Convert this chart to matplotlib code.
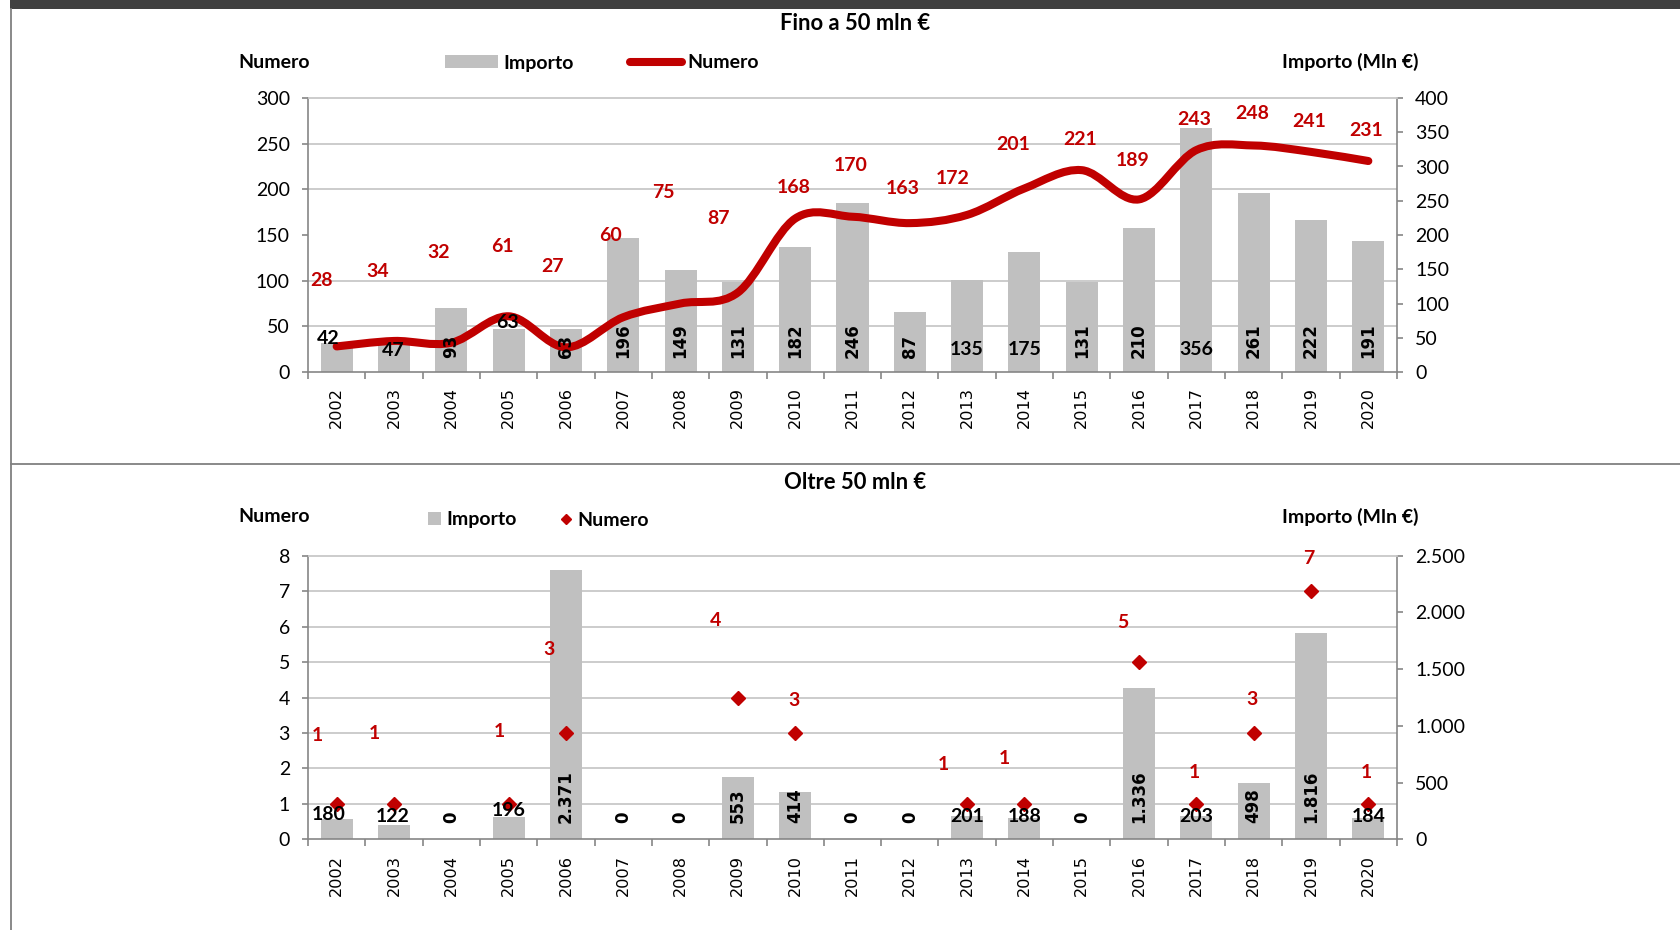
import numpy as np
import matplotlib
matplotlib.use("Agg")
import matplotlib.pyplot as plt
from matplotlib.path import Path
from matplotlib.patches import PathPatch, Rectangle, Patch
from matplotlib.lines import Line2D
from matplotlib.ticker import FuncFormatter

plt.rcParams['font.family'] = ['Lato', 'DejaVu Sans']

# ---------------- data ----------------
years = [str(y) for y in range(2002, 2021)]

# Fino a 50 mln €
small_importo = [42, 47, 93, 63, 63, 196, 149, 131, 182, 246, 87, 135, 175, 131, 210, 356, 261, 222, 191]
small_numero = [28, 34, 32, 61, 27, 60, 75, 87, 168, 170, 163, 172, 201, 221, 189, 243, 248, 241, 231]

# Oltre 50 mln €
big_importo = [180, 122, 0, 196, 2371, 0, 0, 553, 414, 0, 0, 201, 188, 0, 1336, 203, 498, 1816, 184]
big_numero = [1, 1, None, 1, 3, None, None, 4, 3, None, None, 1, 1, None, 5, 1, 3, 7, 1]

# ---------------- layout (label placement as in the original) ----------------
top_num_dx = [-15, -16, -13, -6, -13, -13, -17, -19, -1, -2, -7, -14, -11, -2, -6, -2, -2, -2, -2]
top_num_dy = [72.6, 75.8, 99, 76, 88, 90, 121, 81, 34, 56, 38, 40, 48.5, 34, 42.6, 34, 34.5, 33.4, 33]
top_imp_horiz = {0: (-8, 33.7), 1: (-1, 22), 3: (-1, 50), 11: (0, 22.7), 12: (0, 22.7), 15: (0, 22.7)}

bot_num_dx = [-19, -20, 0, -9, -17, 0, 0, -22, -1, 0, 0, -24, -20, 0, -16, -2, -2, -2, -2]
bot_num_dy = [1.93, 1.99, 0, 2.05, 2.36, 0, 0, 2.17, 0.91, 0, 0, 1.1, 1.28, 0, 1.12, 0.89, 0.93, 0.92, 0.89]
bot_imp_horiz = {0: (-8, 25.3), 1: (-1, 23.3), 3: (0, 29), 11: (0, 23), 12: (0, 23), 15: (0, 23), 18: (0, 23)}

BAR = '#C0C0C0'
RED = '#C00000'
GRID = '#C8C8C8'
AXC = '#868686'
FS = 14
TFS = 15.8

W, H = 1680, 930
fig = plt.figure(figsize=(W / 100, H / 100), dpi=100)


def it_fmt(v):
    return f"{int(round(v)):,}".replace(',', '.')


def smooth_path(xs, ys):
    pts = np.column_stack([xs, ys]).astype(float)
    n = len(pts)
    verts = [pts[0]]
    codes = [Path.MOVETO]
    for i in range(n - 1):
        p0 = pts[i - 1] if i > 0 else pts[i]
        p1 = pts[i]
        p2 = pts[i + 1]
        p3 = pts[i + 2] if i + 2 < n else pts[i + 1]
        c1 = p1 + (p2 - p0) / 6.0
        c2 = p2 - (p3 - p1) / 6.0
        verts += [c1, c2, p2]
        codes += [Path.CURVE4] * 3
    return Path(verts, codes)


def panel(rect, imp, imp_max, imp_step, num_max, num_step, rot_base_px, horiz):
    n = len(years)
    x = np.arange(n)
    ax = fig.add_axes(rect)
    ax.bar(x, imp, width=0.56, color=BAR, zorder=2)
    ax.set_xlim(-0.5, n - 0.5)
    ax.set_ylim(0, imp_max)
    ax.set_yticks(np.arange(0, imp_max + 1, imp_step))
    ax.yaxis.set_major_formatter(FuncFormatter(lambda v, p: it_fmt(v)))
    nlines = int(round(num_max / num_step))
    ax.set_yticks(np.linspace(0, imp_max, nlines + 1), minor=True)
    ax.grid(axis='y', which='minor', color=GRID, lw=1.3, zorder=0)
    ax.set_axisbelow(True)
    for s in ['left', 'right', 'bottom']:
        ax.spines[s].set_color(AXC)
        ax.spines[s].set_linewidth(1.2)
    ax.spines['top'].set_color(GRID)
    ax.spines['top'].set_linewidth(1.3)

    ax.set_xticks(x)
    ax.set_xticklabels(years, rotation=90, fontfamily='DejaVu Sans', fontsize=11.6)
    ax.set_xticks(np.arange(-0.5, n), minor=True)
    ax.tick_params(axis='x', which='major', length=0, pad=11)
    ax.tick_params(axis='x', which='minor', length=5, width=1.2, color=AXC, direction='out')

    ax2 = ax.twinx()
    ax.yaxis.tick_right()
    ax2.yaxis.tick_left()
    ax.tick_params(axis='y', which='major', length=4.5, width=1.2, color=AXC, pad=8.5,
                   labelsize=FS, direction='out')
    ax.tick_params(axis='y', which='minor', length=0)
    ax2.set_ylim(0, num_max)
    ax2.set_yticks(np.arange(0, num_max + 0.001, num_step))
    ax2.yaxis.set_major_formatter(FuncFormatter(lambda v, p: it_fmt(v)))
    ax2.tick_params(axis='y', length=4.5, width=1.2, color=AXC, pad=8.5, labelsize=FS,
                    direction='out')
    for s in ax2.spines.values():
        s.set_visible(False)

    # importo labels
    for i, v in enumerate(imp):
        txt = it_fmt(v)
        if i in horiz:
            dx, dy = horiz[i]
            ax2.annotate(txt, xy=(i, 0), xytext=(dx, dy), textcoords='offset pixels',
                         ha='center', va='center', fontsize=FS, fontweight='bold',
                         color='black', zorder=10)
        else:
            ax2.annotate(txt, xy=(i, 0), xytext=(0, rot_base_px), textcoords='offset pixels',
                         ha='center', va='bottom', rotation=90, fontsize=12,
                         fontfamily='DejaVu Sans', fontweight='bold', color='black',
                         zorder=10)
    return ax, ax2, x


# ---------------- top panel ----------------
ax_t, ax2_t, x = panel([308 / W, 1 - 372 / H, (1397 - 308) / W, (372 - 98) / H],
                       small_importo, 400, 50, 300, 50, 14.5, top_imp_horiz)
path = smooth_path(x, small_numero)
ax2_t.add_patch(PathPatch(path, fill=False, edgecolor=RED, lw=5.8, capstyle='round',
                          joinstyle='round', zorder=5))
for i, v in enumerate(small_numero):
    ax2_t.annotate(str(v), xy=(i, v + top_num_dy[i]), xytext=(top_num_dx[i], 0),
                   textcoords='offset pixels', ha='center', va='center', fontsize=FS,
                   fontweight='bold', color=RED, zorder=11)

# ---------------- bottom panel ----------------
ax_b, ax2_b, x = panel([308 / W, 1 - 839.3 / H, (1397 - 308) / W, (839.3 - 555.7) / H],
                       big_importo, 2500, 500, 8, 1, 16.5, bot_imp_horiz)
num_arr = np.array([np.nan if v is None else v for v in big_numero], dtype=float)
ax2_b.plot(x, num_arr, linestyle='none', marker='D', ms=7.3, color=RED, zorder=6,
           clip_on=False)
for i, v in enumerate(big_numero):
    if v is None:
        continue
    ax2_b.annotate(str(v), xy=(i, v + bot_num_dy[i]), xytext=(bot_num_dx[i], 0),
                   textcoords='offset pixels', ha='center', va='center', fontsize=FS,
                   fontweight='bold', color=RED, zorder=11)

# ---------------- titles, axis names, legends ----------------
fig.text(855 / W, 1 - 24 / H, 'Fino a 50 mln €', ha='center', va='center',
         fontsize=TFS, fontweight='bold')
fig.text(855 / W, 1 - 482 / H, 'Oltre 50 mln €', ha='center', va='center',
         fontsize=TFS, fontweight='bold')
for yc in (62, 517):
    fig.text(238.6 / W, 1 - yc / H, 'Numero', ha='left', va='center', fontsize=FS,
             fontweight='bold')
    fig.text(1418 / W, 1 - yc / H, 'Importo (Mln €)', ha='right', va='center', fontsize=FS,
             fontweight='bold')

leg_prop = {'weight': 'bold', 'size': FS}
fig.legend([Patch(facecolor=BAR, edgecolor='none'),
            Line2D([0], [0], color=RED, lw=5.8, solid_capstyle='round')],
           ['Importo', 'Numero'], loc='center left', bbox_to_anchor=(445 / W, 1 - 63 / H),
           ncol=2, frameon=False, borderpad=0, borderaxespad=0, handlelength=2.7,
           handleheight=0.62, handletextpad=0.28, columnspacing=2.9, prop=leg_prop)
fig.legend([Patch(facecolor=BAR, edgecolor='none'),
            Line2D([0], [0], color=RED, linestyle='none', marker='D', ms=5.5)],
           ['Importo', 'Numero'], loc='center left', bbox_to_anchor=(428.5 / W, 1 - 520 / H),
           ncol=2, frameon=False, borderpad=0, borderaxespad=0, handlelength=0.62,
           handleheight=0.62, handletextpad=0.3, columnspacing=2.2, prop=leg_prop)

# ---------------- frame decorations ----------------
fig.add_artist(Rectangle((10 / W, 1 - 9.3 / H), 1, 9.3 / H, transform=fig.transFigure,
                         facecolor='#404040', edgecolor='none'))
fig.add_artist(Line2D([10.7 / W, 10.7 / W], [0, 1 - 9 / H], transform=fig.transFigure,
                      color='#808080', lw=1.3))
fig.add_artist(Line2D([10.7 / W, 1], [1 - 464 / H, 1 - 464 / H], transform=fig.transFigure,
                      color='#808080', lw=1.3))

fig.savefig('out.png', dpi=100, facecolor='white')
